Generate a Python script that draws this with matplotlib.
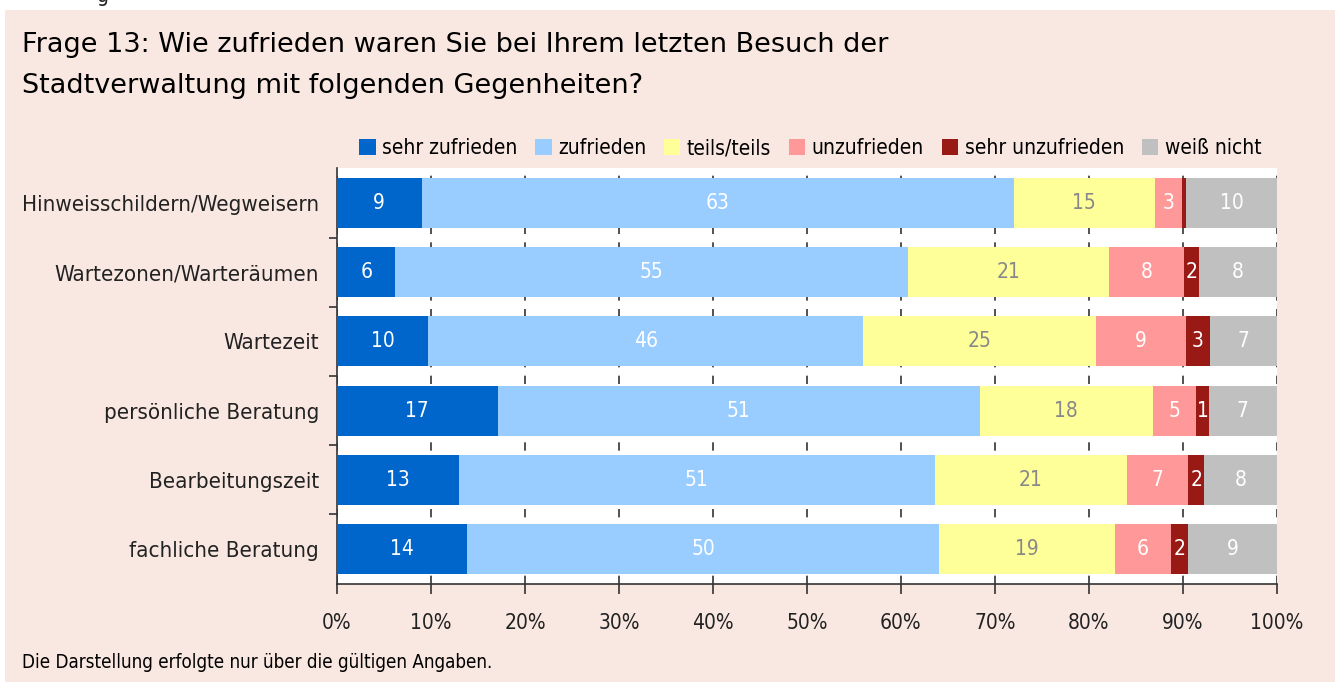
import numpy as np
import matplotlib.pyplot as plt
from matplotlib.patches import Rectangle

# categories (top to bottom) and shares in percent
kategorien = ['Hinweisschildern/Wegweisern', 'Wartezonen/Warteräumen', 'Wartezeit',
              'persönliche Beratung', 'Bearbeitungszeit', 'fachliche Beratung']
sehr_zufrieden = [9.0, 6.2, 9.7, 17.1, 13.0, 13.8]
zufrieden = [63.0, 54.6, 46.3, 51.3, 50.6, 50.3]
teils_teils = [15.0, 21.4, 24.8, 18.4, 20.5, 18.7]
unzufrieden = [2.9, 7.9, 9.5, 4.6, 6.5, 5.9]
sehr_unzufrieden = [0.5, 1.6, 2.6, 1.4, 1.7, 1.9]
weiss_nicht = [9.6, 8.4, 7.2, 7.2, 7.7, 9.4]

# printed labels (rounded values as shown on the chart, '' = no label)
lab_sehr_zufrieden = ['9', '6', '10', '17', '13', '14']
lab_zufrieden = ['63', '55', '46', '51', '51', '50']
lab_teils = ['15', '21', '25', '18', '21', '19']
lab_unzufrieden = ['3', '8', '9', '5', '7', '6']
lab_sehr_unzufrieden = ['', '2', '3', '1', '2', '2']
lab_weiss_nicht = ['10', '8', '7', '7', '8', '9']

serien = ['sehr zufrieden', 'zufrieden', 'teils/teils', 'unzufrieden', 'sehr unzufrieden', 'weiß nicht']
werte = [sehr_zufrieden, zufrieden, teils_teils, unzufrieden, sehr_unzufrieden, weiss_nicht]
labels = [lab_sehr_zufrieden, lab_zufrieden, lab_teils, lab_unzufrieden, lab_sehr_unzufrieden, lab_weiss_nicht]
farben = ['#0066CC', '#99CCFF', '#FFFF99', '#FF9999', '#991A14', '#C0C0C0']
textfarben = ['white', 'white', '#888888', 'white', 'white', 'white']

plt.rcParams['font.family'] = ['DejaVu Sans']
plt.rcParams['font.stretch'] = 'condensed'

fig = plt.figure(figsize=(13.35, 6.82), dpi=100)
fig.patch.set_facecolor('white')
# pink background panel
fig.add_artist(Rectangle((5/1335, 0), 1, 672/682, transform=fig.transFigure,
                         facecolor='#F9E8E1', edgecolor='none', zorder=-10))

ax = fig.add_axes([337/1335, 98.4/682, 939.7/1335, 415.2/682])
ax.set_facecolor('white')

y = np.arange(len(kategorien))
links = np.zeros(len(kategorien))
for name, w, lab, c, tc in zip(serien, werte, labels, farben, textfarben):
    w = np.array(w)
    ax.barh(y, w, left=links, height=0.72, color=c, label=name, zorder=3)
    for yi, li, wi, t in zip(y, links, w, lab):
        ax.text(li + wi/2, yi, t, ha='center', va='center',
                color=tc, fontsize=15, zorder=4)
    links = links + w

ax.set_xlim(0, 100)
ax.set_ylim(len(kategorien) - 0.5, -0.5)
ax.set_xticks(np.arange(0, 101, 10))
ax.set_xticklabels(['%d%%' % v for v in range(0, 101, 10)], fontsize=15, color='#222222')
ax.tick_params(axis='x', direction='out', length=7, width=1.2, color='#333333', pad=14)
ax.set_yticks(y)
ax.set_yticklabels(kategorien, fontsize=16, color='#222222')
ax.tick_params(axis='y', length=0, pad=13)
ax.set_yticks(np.arange(-0.5, len(kategorien), 1)[1:-1], minor=True)
ax.tick_params(axis='y', which='minor', length=6, width=1.2, color='#333333')

ax.grid(axis='x', color='#333333', linestyle=(0, (5, 5)), linewidth=1.2, zorder=1)
for s in ['top', 'right']:
    ax.spines[s].set_visible(False)
for s in ['left', 'bottom']:
    ax.spines[s].set_color('#333333')
    ax.spines[s].set_linewidth(1.2)

leg = fig.legend(loc='center', bbox_to_anchor=(810/1335, 1 - 148/682), ncol=6,
                 frameon=False, fontsize=15, handlelength=0.8, handleheight=0.8,
                 handletextpad=0.3, columnspacing=0.85)

fig.text(22/1335, 1 - 45/682, 'Frage 13: Wie zufrieden waren Sie bei Ihrem letzten Besuch der',
         fontsize=19.5, stretch='normal', va='center', ha='left')
fig.text(22/1335, 1 - 86/682, 'Stadtverwaltung mit folgenden Gegenheiten?',
         fontsize=19.5, stretch='normal', va='center', ha='left')
fig.text(22/1335, 1 - 663/682, 'Die Darstellung erfolgte nur über die gültigen Angaben.',
         fontsize=13.5, va='center', ha='left')
# cut-off heading fragment above the panel
fig.text(97/1335, 1 - 2/682, 'g', fontsize=15, va='baseline', ha='left', color='#222222')

fig.savefig('out.png', dpi=100, facecolor=fig.get_facecolor())
